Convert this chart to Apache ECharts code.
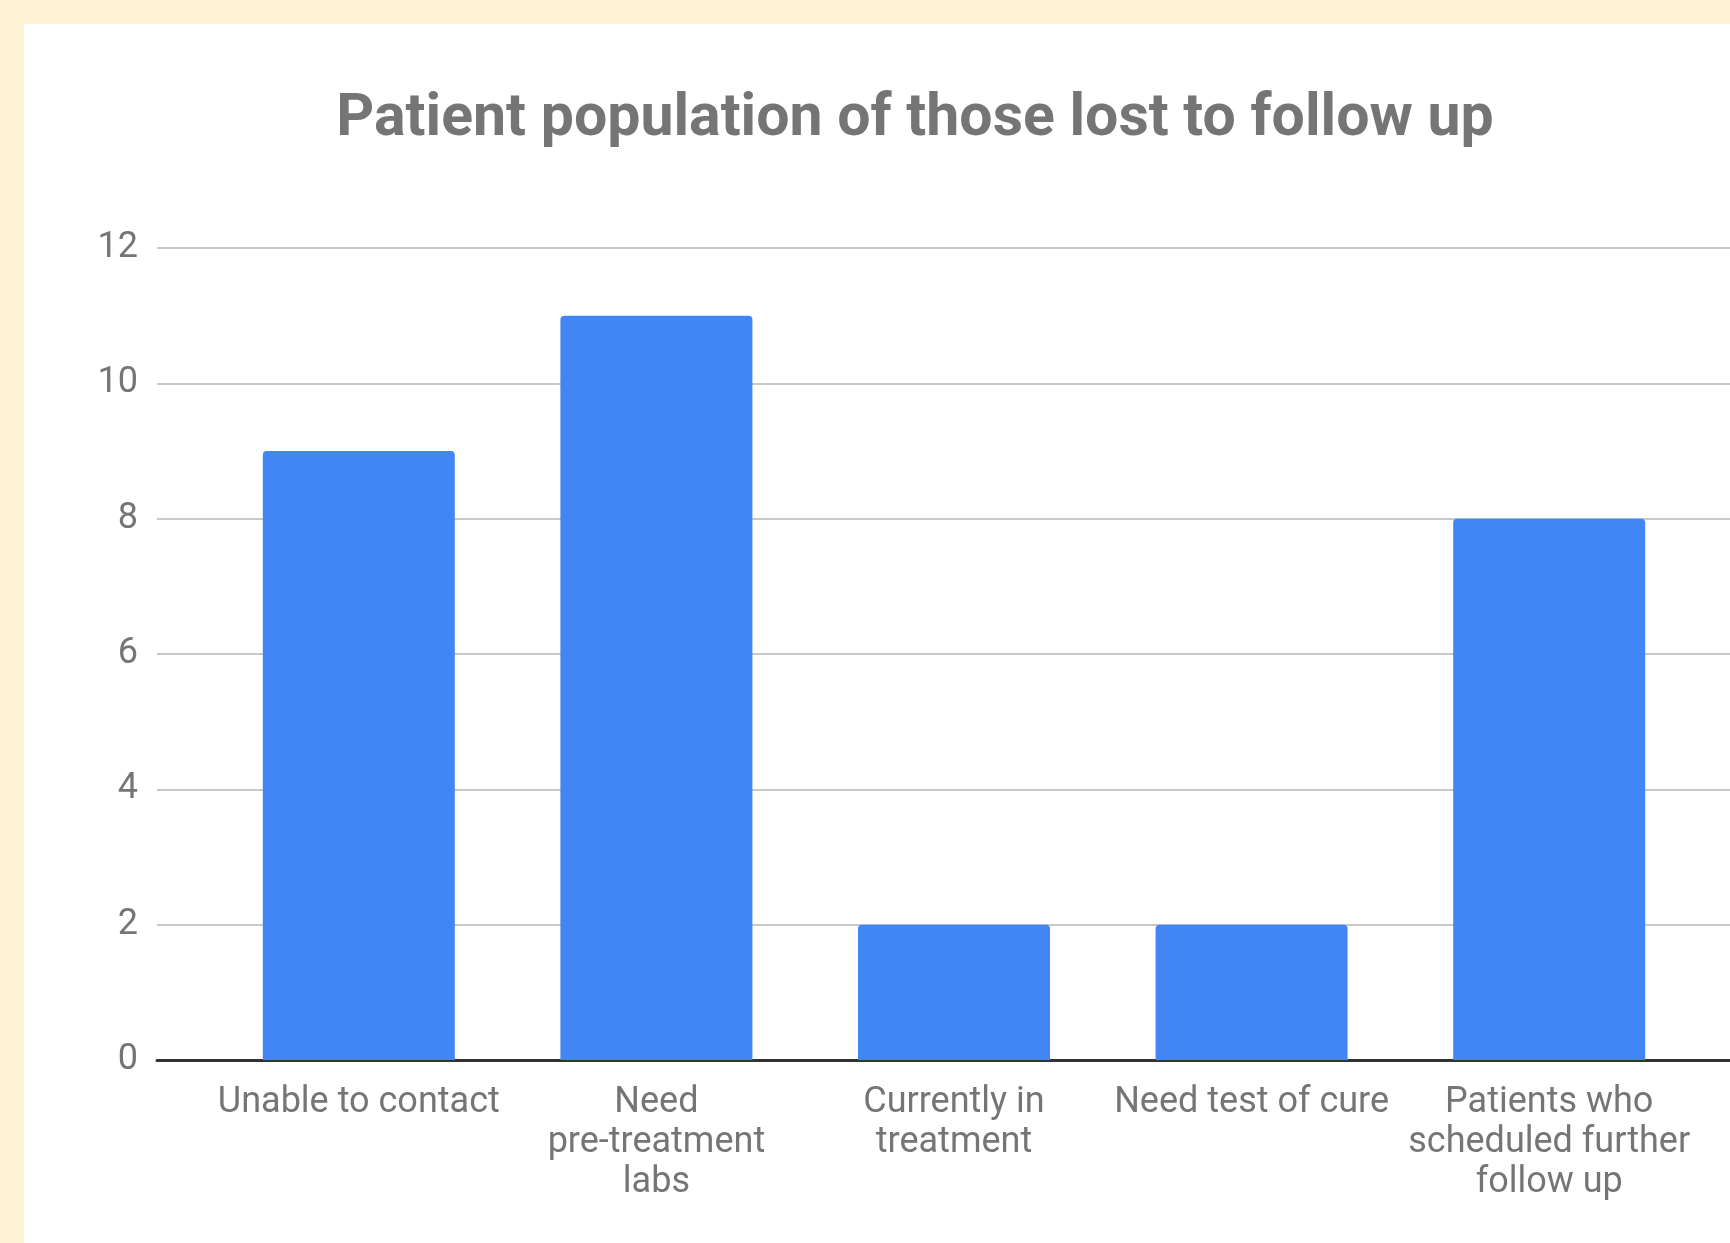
<!DOCTYPE html>
<html>
<head>
<meta charset="utf-8">
<script src="https://cdn.jsdelivr.net/npm/echarts@6/dist/echarts.min.js"></script>
<style>
  html, body { margin: 0; padding: 0; background: #fff4d6; }
  #chart { width: 1730px; height: 1243px; }
</style>
</head>
<body>
<div id="chart"></div>
<script>
// data
var categories = [
  'Unable to contact',
  'Need\npre-treatment\nlabs',
  'Currently in\ntreatment',
  'Need test of cure',
  'Patients who\nscheduled further\nfollow up'
];
var counts = [9, 11, 2, 2, 8];
var yTicks = [0, 2, 4, 6, 8, 10, 12];

var textGray = '#757575';
var chart = echarts.init(document.getElementById('chart'));
var option = {
  backgroundColor: '#fff4d6',
  animation: false,
  graphic: [{
    type: 'rect', z: -10, silent: true,
    shape: { x: 24, y: 24, width: 1706, height: 1219 },
    style: { fill: '#ffffff' }
  }],
  title: {
    text: 'Patient population of those lost to follow up',
    left: 910, top: 86,
    textAlign: 'center',
    textStyle: { fontFamily: 'Roboto', fontWeight: 'bold', fontSize: 59, color: textGray }
  },
  grid: [
    // bars
    { left: 210, right: 32, top: 248, bottom: 183 },
    // gridlines + axis line across the whole width
    { left: 157, right: 0, top: 248, bottom: 183 }
  ],
  xAxis: [
    {
      type: 'category', gridIndex: 0, data: categories,
      axisLine: { show: false }, axisTick: { show: false },
      axisLabel: {
        interval: 0, margin: 23, color: textGray,
        fontFamily: 'Roboto', fontSize: 36, lineHeight: 40, verticalAlign: 'top'
      }
    },
    {
      type: 'value', gridIndex: 1, min: 0, max: 1,
      axisLine: { show: true, onZero: true, lineStyle: { color: '#333333', width: 3 } },
      axisTick: { show: false }, axisLabel: { show: false }, splitLine: { show: false }
    }
  ],
  yAxis: [
    {
      type: 'value', gridIndex: 0, min: yTicks[0], max: yTicks[yTicks.length - 1], interval: 2,
      axisLabel: { show: false }, axisLine: { show: false }, axisTick: { show: false },
      splitLine: { show: false }
    },
    {
      type: 'value', gridIndex: 1, min: yTicks[0], max: yTicks[yTicks.length - 1], interval: 2,
      axisLine: { show: false }, axisTick: { show: false },
      axisLabel: { margin: 19, color: textGray, fontFamily: 'Roboto', fontSize: 36 },
      splitLine: { lineStyle: { color: '#c8c8c8', width: 2 } }
    }
  ],
  series: [{
    type: 'bar', xAxisIndex: 0, yAxisIndex: 0,
    data: counts, barWidth: 192, z: 3,
    itemStyle: { color: '#4285f4', borderRadius: [4, 4, 0, 0] }
  }]
};
chart.setOption(option);
</script>
</body>
</html>
